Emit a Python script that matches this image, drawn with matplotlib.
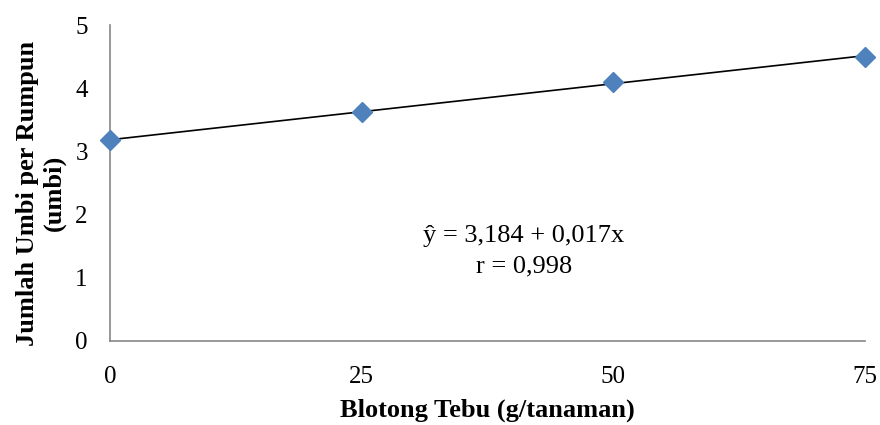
import matplotlib

matplotlib.use("Agg")
import matplotlib.pyplot as plt
import numpy as np

# dosage of sugarcane filter cake and mean bulbs per clump
dosis = [0, 25, 50, 75]
umbi = [3.18, 3.62, 4.10, 4.50]
x_ticks = [0, 25, 50, 75]
y_ticks = [0, 1, 2, 3, 4, 5]

plt.rcParams["font.family"] = ["Liberation Serif", "DejaVu Serif"]

fig = plt.figure(figsize=(8.8, 4.25), dpi=100)
ax = fig.add_axes([0.125, 0.198, 0.858, 0.743])

# linear trend through the observations
b, a = np.polyfit(dosis, umbi, 1)
xs = np.array([min(dosis), max(dosis)])
ax.plot(xs, a + b * xs, color="black", lw=1.2, zorder=2)
ax.plot(dosis, umbi, "D", color="#4F81BD", ms=10, mec="#4F81BD", zorder=3,
        clip_on=False)

ax.set_xlim(0, 75)
ax.set_ylim(0, 5)
ax.set_xticks(x_ticks)
ax.set_yticks(y_ticks)
ax.tick_params(axis="both", length=0, labelsize=18, colors="#000000")
ax.tick_params(axis="x", pad=18)
ax.tick_params(axis="y", pad=16)

for side in ("top", "right"):
    ax.spines[side].set_visible(False)
for side in ("left", "bottom"):
    ax.spines[side].set_color("#868686")
    ax.spines[side].set_linewidth(1.2)

ax.set_xlabel("Blotong Tebu (g/tanaman)", fontsize=19, fontweight="bold",
              labelpad=8)
ax.set_ylabel("Jumlah Umbi per Rumpun\n(umbi)", fontsize=19, fontweight="bold",
              linespacing=1.2)
ax.yaxis.set_label_coords(-0.058, 0.468)

ax.text(41.1, 1.42, "ŷ = 3,184 + 0,017x\nr = 0,998", ha="center", va="center",
        fontsize=19, linespacing=1.45)

fig.savefig("out.png", dpi=100, facecolor="white")
